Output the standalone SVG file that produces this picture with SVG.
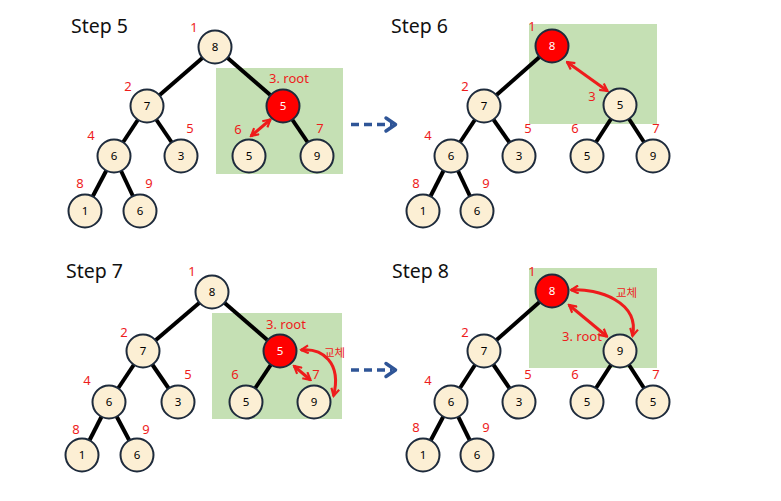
<svg xmlns="http://www.w3.org/2000/svg" width="781" height="501" viewBox="0 0 781 501">
<style>
text{font-family:"Noto Sans","Noto Sans CJK KR",sans-serif}
.title{font-size:19.5px;fill:#111}
.bg{fill:#c5e0b4}
.edge{stroke:#000;stroke-width:4;fill:none}
.nd circle{fill:#fcefd4;stroke:#1e2b3c;stroke-width:2}
.nd text{font-size:11.5px;fill:#000;text-anchor:middle}
.nd.red circle{fill:#ff0000}
.nd.red text{fill:#fff}
.lbl{font-size:13px;fill:#ee1c1c;text-anchor:middle}
.lbl.l{text-anchor:start}
.lbl.k{font-size:11.5px}
.ra{stroke:#ee1c1c;stroke-width:3;fill:none;marker-start:url(#rh);marker-end:url(#rh)}
.da{stroke:#2f5597;stroke-width:3.5;stroke-dasharray:8 5;fill:none}
.dh{stroke:#2f5597;stroke-width:3.5;fill:none;stroke-linecap:round;stroke-linejoin:round}
</style>
<defs>
<marker id="rh" viewBox="0 0 10 10" refX="8.5" refY="5" markerWidth="3.3" markerHeight="3.3" orient="auto-start-reverse" markerUnits="strokeWidth">
<path d="M1,1 L8.5,5 L1,9" fill="none" stroke="#ee1c1c" stroke-width="2.2"/>
</marker>
</defs>

<!-- backgrounds -->
<rect class="bg" x="216" y="68" width="127" height="106"/>
<rect class="bg" x="529" y="24" width="128" height="100"/>
<rect class="bg" x="212" y="313" width="130" height="106"/>
<rect class="bg" x="529" y="268" width="128" height="100"/>

<text class="title" x="71" y="33">Step 5</text>
<text class="title" x="391" y="33">Step 6</text>
<text class="title" x="66" y="278">Step 7</text>
<text class="title" x="392" y="278">Step 8</text>

<g id="connectors">
<!-- step 5 -->
<line class="edge" x1="215" y1="47" x2="147" y2="106"/>
<line class="edge" x1="215" y1="47" x2="283" y2="106"/>
<line class="edge" x1="147" y1="106" x2="114" y2="156"/>
<line class="edge" x1="147" y1="106" x2="181" y2="156"/>
<line class="edge" x1="283" y1="106" x2="317" y2="156"/>
<line class="edge" x1="114" y1="156" x2="85" y2="211"/>
<line class="edge" x1="114" y1="156" x2="140" y2="211"/>
<path class="ra" d="M251,136 L270.5,119.5"/>
<!-- step 6 -->
<line class="edge" x1="552" y1="46" x2="484" y2="106"/>
<line class="edge" x1="484" y1="106" x2="451" y2="156"/>
<line class="edge" x1="484" y1="106" x2="519" y2="156"/>
<line class="edge" x1="620" y1="105" x2="587" y2="156"/>
<line class="edge" x1="620" y1="105" x2="653" y2="156"/>
<line class="edge" x1="451" y1="156" x2="423" y2="211"/>
<line class="edge" x1="451" y1="156" x2="477" y2="211"/>
<path class="ra" d="M567,62 L607.5,91"/>
<!-- step 7 -->
<line class="edge" x1="212" y1="292" x2="143" y2="351"/>
<line class="edge" x1="212" y1="292" x2="280" y2="351"/>
<line class="edge" x1="143" y1="351" x2="109" y2="402"/>
<line class="edge" x1="143" y1="351" x2="178" y2="402"/>
<line class="edge" x1="280" y1="351" x2="246" y2="402"/>
<line class="edge" x1="109" y1="402" x2="82" y2="455"/>
<line class="edge" x1="109" y1="402" x2="137" y2="455"/>
<path class="ra" d="M294,366 L310.5,380"/>
<path class="ra" d="M301,350 C322,348 342,362 333.5,396"/>
<!-- step 8 -->
<line class="edge" x1="552" y1="291" x2="484" y2="351"/>
<line class="edge" x1="484" y1="351" x2="451" y2="402"/>
<line class="edge" x1="484" y1="351" x2="519" y2="402"/>
<line class="edge" x1="620" y1="351" x2="587" y2="402"/>
<line class="edge" x1="620" y1="351" x2="653" y2="402"/>
<line class="edge" x1="451" y1="402" x2="423" y2="455"/>
<line class="edge" x1="451" y1="402" x2="477" y2="455"/>
<path class="ra" d="M569,305 L607,336.5"/>
<path class="ra" d="M571,290 C598,288 640,302 632.5,336"/>
<!-- dashed step arrows -->
<path class="da" d="M351,124.5 L392,124.5"/>
<polyline class="dh" points="386,118 395.5,124.5 386,131"/>
<path class="da" d="M351,370 L392,370"/>
<polyline class="dh" points="386,363.5 395.5,370 386,376.5"/>
</g>

<!-- step 5 nodes -->
<g id="s5n1" class="nd"><circle cx="215" cy="47" r="16.5"/><text x="215" y="51">8</text></g>
<g id="s5n2" class="nd"><circle cx="147" cy="106" r="16.5"/><text x="147" y="110">7</text></g>
<g id="s5n3" class="nd red"><circle cx="283" cy="106" r="16.5"/><text x="283" y="110">5</text></g>
<g id="s5n4" class="nd"><circle cx="114" cy="156" r="16.5"/><text x="114" y="160">6</text></g>
<g id="s5n5" class="nd"><circle cx="181" cy="156" r="16.5"/><text x="181" y="160">3</text></g>
<g id="s5n6" class="nd"><circle cx="249" cy="156" r="16.5"/><text x="249" y="160">5</text></g>
<g id="s5n7" class="nd"><circle cx="317" cy="156" r="16.5"/><text x="317" y="160">9</text></g>
<g id="s5n8" class="nd"><circle cx="85" cy="211" r="16.5"/><text x="85" y="215">1</text></g>
<g id="s5n9" class="nd"><circle cx="140" cy="211" r="16.5"/><text x="140" y="215">6</text></g>

<!-- step 6 nodes -->
<g id="s6n1" class="nd red"><circle cx="552" cy="46" r="16.5"/><text x="552" y="50">8</text></g>
<g id="s6n2" class="nd"><circle cx="484" cy="106" r="16.5"/><text x="484" y="110">7</text></g>
<g id="s6n3" class="nd"><circle cx="620" cy="105" r="16.5"/><text x="620" y="109">5</text></g>
<g id="s6n4" class="nd"><circle cx="451" cy="156" r="16.5"/><text x="451" y="160">6</text></g>
<g id="s6n5" class="nd"><circle cx="519" cy="156" r="16.5"/><text x="519" y="160">3</text></g>
<g id="s6n6" class="nd"><circle cx="587" cy="156" r="16.5"/><text x="587" y="160">5</text></g>
<g id="s6n7" class="nd"><circle cx="653" cy="156" r="16.5"/><text x="653" y="160">9</text></g>
<g id="s6n8" class="nd"><circle cx="423" cy="211" r="16.5"/><text x="423" y="215">1</text></g>
<g id="s6n9" class="nd"><circle cx="477" cy="211" r="16.5"/><text x="477" y="215">6</text></g>

<!-- step 7 nodes -->
<g id="s7n1" class="nd"><circle cx="212" cy="292" r="16.5"/><text x="212" y="296">8</text></g>
<g id="s7n2" class="nd"><circle cx="143" cy="351" r="16.5"/><text x="143" y="355">7</text></g>
<g id="s7n3" class="nd red"><circle cx="280" cy="351" r="16.5"/><text x="280" y="355">5</text></g>
<g id="s7n4" class="nd"><circle cx="109" cy="402" r="16.5"/><text x="109" y="406">6</text></g>
<g id="s7n5" class="nd"><circle cx="178" cy="402" r="16.5"/><text x="178" y="406">3</text></g>
<g id="s7n6" class="nd"><circle cx="246" cy="402" r="16.5"/><text x="246" y="406">5</text></g>
<g id="s7n7" class="nd"><circle cx="314" cy="402" r="16.5"/><text x="314" y="406">9</text></g>
<g id="s7n8" class="nd"><circle cx="82" cy="455" r="16.5"/><text x="82" y="459">1</text></g>
<g id="s7n9" class="nd"><circle cx="137" cy="455" r="16.5"/><text x="137" y="459">6</text></g>

<!-- step 8 nodes -->
<g id="s8n1" class="nd red"><circle cx="552" cy="291" r="16.5"/><text x="552" y="295">8</text></g>
<g id="s8n2" class="nd"><circle cx="484" cy="351" r="16.5"/><text x="484" y="355">7</text></g>
<g id="s8n3" class="nd"><circle cx="620" cy="351" r="16.5"/><text x="620" y="355">9</text></g>
<g id="s8n4" class="nd"><circle cx="451" cy="402" r="16.5"/><text x="451" y="406">6</text></g>
<g id="s8n5" class="nd"><circle cx="519" cy="402" r="16.5"/><text x="519" y="406">3</text></g>
<g id="s8n6" class="nd"><circle cx="587" cy="402" r="16.5"/><text x="587" y="406">5</text></g>
<g id="s8n7" class="nd"><circle cx="653" cy="402" r="16.5"/><text x="653" y="406">5</text></g>
<g id="s8n8" class="nd"><circle cx="423" cy="455" r="16.5"/><text x="423" y="459">1</text></g>
<g id="s8n9" class="nd"><circle cx="477" cy="455" r="16.5"/><text x="477" y="459">6</text></g>

<g id="labels">
<!-- step 5 -->
<text class="lbl" x="194" y="32">1</text>
<text class="lbl" x="128" y="91">2</text>
<text class="lbl l" x="269" y="83">3. root</text>
<text class="lbl" x="91" y="140">4</text>
<text class="lbl" x="190" y="133">5</text>
<text class="lbl" x="238" y="134">6</text>
<text class="lbl" x="320" y="133">7</text>
<text class="lbl" x="80" y="188">8</text>
<text class="lbl" x="149" y="188">9</text>
<!-- step 6 -->
<text class="lbl" x="532" y="31">1</text>
<text class="lbl" x="465" y="91">2</text>
<text class="lbl" x="592" y="101">3</text>
<text class="lbl" x="428" y="140">4</text>
<text class="lbl" x="528" y="133">5</text>
<text class="lbl" x="575" y="133">6</text>
<text class="lbl" x="656" y="133">7</text>
<text class="lbl" x="416" y="188">8</text>
<text class="lbl" x="486" y="188">9</text>
<!-- step 7 -->
<text class="lbl" x="192" y="276">1</text>
<text class="lbl" x="124" y="337">2</text>
<text class="lbl l" x="266" y="329">3. root</text>
<text class="lbl l k" x="324" y="357">교체</text>
<text class="lbl" x="87" y="385">4</text>
<text class="lbl" x="188" y="379">5</text>
<text class="lbl" x="235" y="379">6</text>
<text class="lbl" x="316" y="379">7</text>
<text class="lbl" x="76" y="434">8</text>
<text class="lbl" x="146" y="434">9</text>
<!-- step 8 -->
<text class="lbl" x="532" y="276">1</text>
<text class="lbl l k" x="616" y="297">교체</text>
<text class="lbl l" x="562" y="341">3. root</text>
<text class="lbl" x="465" y="337">2</text>
<text class="lbl" x="428" y="385">4</text>
<text class="lbl" x="528" y="379">5</text>
<text class="lbl" x="575" y="379">6</text>
<text class="lbl" x="656" y="379">7</text>
<text class="lbl" x="416" y="432">8</text>
<text class="lbl" x="486" y="432">9</text>
</g>
</svg>
